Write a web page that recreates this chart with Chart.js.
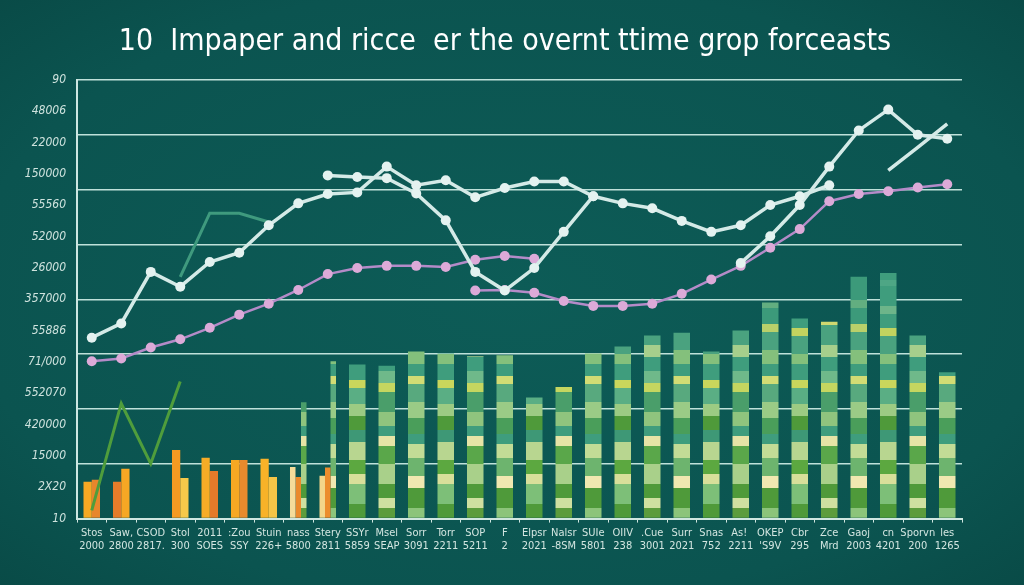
<!DOCTYPE html>
<html>
<head>
<meta charset="utf-8">
<script src="https://cdn.jsdelivr.net/npm/chart.js@4.4.1/dist/chart.umd.min.js"></script>
<style>
  html, body { margin: 0; padding: 0; }
  body { background: radial-gradient(ellipse at center, #0d5c57 0%, #0b5450 75%, #094b47 100%); }
  #wrap { width: 1024px; height: 585px; position: relative; }
  #title {
    position: absolute; top: 22px; left: -7px; width: 1024px; text-align: center;
    font-family: 'Liberation Sans Narrow', 'DejaVu Sans Condensed', sans-serif;
    font-size: 30px; line-height: 36px; color: #ffffff; white-space: pre;
  }
</style>
</head>
<body>
<div id="wrap">
  <canvas id="chart"></canvas>
  <div id="title">10  Impaper and ricce  er the overnt ttime grop forceasts</div>
</div>
<script>
// categories (two-line tick labels)
const xLabelTop = ['Stos', 'Saw,', 'CSOD', 'Stol', '2011', ':Zou', 'Stuin', 'nass', 'Stery', 'SSYr',
  'Msel', 'Sorr', 'Torr', 'SOP', 'F', 'Elpsr', 'Nalsr', 'SUIe', 'OIIV', '.Cue',
  'Surr', 'Snas', 'As! ', 'OKEP', 'Cbr', 'Zce', 'Gaoj', 'cn', 'Sporvn', 'les'];
const xLabelBottom = ['2000', '2800', '2817.', '300', 'SOES', 'SSY', '226+', '5800', '2811', '5859',
  'SEAP', '3091', '2211', '5211', '2', '2021', '-8SM', '5801', '238', '3001',
  '2021', '752', '2211', "'S9V", '295', 'Mrd', '2003', '4201', '200', '1265'];

// y tick labels, bottom to top
const yTickLabels = ['10', '2X20', '15000', '420000', '552070', '71/000', '55886', '357000',
  '26000', '52000', '55560', '150000', '22000', '48006', '90'];

// line series
const whiteA = [3.30, 3.56, 4.50, 4.23, 4.68, 4.85, 5.35, 5.75, 5.92, 5.95, 6.42, 6.08, 6.17, 5.86, 6.03,
  6.15, 6.15, 5.88, 5.75, 5.66, 5.43, 5.23, 5.35, 5.72, 5.88, 6.08, null, null, null, null];
const whiteB = [null, null, null, null, null, null, null, null, 6.26, 6.23, 6.21, 5.93, 5.44, 4.50, 4.16,
  4.57, 5.23, 5.88, null, null, null, null, null, null, null, null, null, null, null, null];
const whiteC = [null, null, null, null, null, null, null, null, null, null, null, null, null, null, null,
  null, null, null, null, null, null, null, 4.66, 5.15, 5.72, 6.42, 7.08, 7.46, 7.00, 6.93];
const whiteD = [null, null, null, null, null, null, null, null, null, null, null, null, null, null, null,
  null, null, null, null, null, null, null, null, null, null, null, null, 6.35, 6.77, 7.20];
const purpleA = [2.87, 2.92, 3.12, 3.27, 3.48, 3.72, 3.92, 4.17, 4.46, 4.57, 4.61, 4.61, 4.59, 4.72, 4.79,
  4.74, null, null, null, null, null, null, null, null, null, null, null, null, null, null];
const purpleB = [null, null, null, null, null, null, null, null, null, null, null, null, null, 4.16, 4.17,
  4.12, 3.97, 3.88, 3.88, 3.92, 4.10, 4.36, 4.61, 4.94, 5.28, 5.79, 5.92, 5.97, 6.04, 6.10];
const tealLine = [null, null, null, 4.41, 5.57, 5.57, 5.41, null, null, null, null, null, null, null, null,
  null, null, null, null, null, null, null, null, null, null, null, null, null, null, null];
const sproutLine = [0.15, 2.10, 1.00, 2.50, null, null, null, null, null, null, null, null, null, null, null,
  null, null, null, null, null, null, null, null, null, null, null, null, null, null, null];

// bar series
const orangeA = [0.67, 0.67, null, 1.25, 1.11, 1.07, 1.09, 0.94, 0.78, null, null, null, null, null, null,
  null, null, null, null, null, null, null, null, null, null, null, null, null, null, null];
const orangeB = [0.71, 0.91, null, 0.74, 0.87, 1.07, 0.76, 0.76, 0.93, null, null, null, null, null, null,
  null, null, null, null, null, null, null, null, null, null, null, null, null, null, null];
const greenBars = [null, null, null, null, null, null, null, 2.12, 2.87, 2.81, 2.79, 3.05, 3.01, 2.96, 2.98,
  2.21, 2.40, 3.01, 3.14, 3.34, 3.39, 3.05, 3.43, 3.94, 3.65, 3.59, 4.41, 4.48, 3.34, 2.67];

// colours
const orangeAColors = ['#f7a823', '#e67c2a', '#f7a823', '#f59a22', '#f6ac26', '#f7a823', '#f8b228', '#f4dc9a', '#f3d68a'];
const orangeBColors = ['#e8862c', '#f6a724', '#e8862c', '#f6c94a', '#e47a2a', '#e88a2d', '#f6c547', '#ea8a2c', '#ec8d2d'];
const FONT = "'Liberation Sans Narrow', 'DejaVu Sans Condensed', sans-serif";

// striped fill for the green bars, one page tall so the bands sit at fixed heights
function stripePattern(bands) {
  const c = document.createElement('canvas');
  const total = bands.reduce((s, b) => s + b[1], 0);
  c.width = 8; c.height = total;
  const g = c.getContext('2d');
  let y = 0;
  bands.forEach(([col, h]) => { g.fillStyle = col; g.fillRect(0, y, 8, h); y += h; });
  return g.createPattern(c, 'repeat');
}
const patterns = [
  stripePattern([['#3f9d7d', 280], ['#4ea685', 6], ['#3f9d7d', 20], ['#6db58a', 8], ['#3f9d7d', 14], ['#c2d35f', 8],
    ['#4aa27f', 18], ['#84c07c', 10], ['#3f9d7d', 16], ['#c9d65c', 8], ['#5aae84', 16], ['#9ccb83', 12], ['#4f9a3a', 14],
    ['#3e9876', 12], ['#b8d690', 18], ['#5ca840', 14], ['#d8df9a', 10], ['#7dbf78', 20], ['#4f9a3a', 16], ['#3f9d7d', 65]]),
  stripePattern([['#43a080', 290], ['#5cae88', 10], ['#3c9878', 18], ['#d0d870', 7], ['#4aa27f', 20], ['#a6cf8c', 12],
    ['#3f9d7d', 14], ['#6fb98a', 12], ['#c5d660', 9], ['#4a9e6a', 20], ['#8fc47e', 14], ['#3f9d7d', 10], ['#e6e4a6', 10],
    ['#5aa74a', 18], ['#a9d08a', 20], ['#4f9a3a', 14], ['#cfe0a0', 10], ['#5c9c3c', 12], ['#43a080', 65]]),
  stripePattern([['#3c9a7a', 300], ['#62ae80', 8], ['#3c9a7a', 16], ['#b9d06a', 8], ['#4aa27f', 18], ['#84c07c', 14],
    ['#3f9d7d', 12], ['#d2dc74', 8], ['#58a97e', 18], ['#9acb86', 16], ['#4a9e5a', 16], ['#3f9d7d', 10], ['#c2dc96', 14],
    ['#6db46e', 18], ['#f0e8b0', 12], ['#4f9a3a', 20], ['#8cc47a', 12], ['#3c9a7a', 65]])
];

const whiteLine = { type: 'line', borderColor: '#d4eae7', backgroundColor: '#e4f2f0', borderWidth: 3.5,
  pointRadius: 5, pointBorderWidth: 0, tension: 0, order: 0 };
const purpleLine = { type: 'line', borderColor: '#b48bc8', backgroundColor: '#dcaad8', borderWidth: 2.5,
  pointRadius: 5, pointBorderWidth: 0, tension: 0, order: 0 };

new Chart(document.getElementById('chart'), {
  type: 'bar',
  data: {
    labels: xLabelTop.map((t, i) => [t, xLabelBottom[i]]),
    datasets: [
      { ...whiteLine, label: 'Forecast A', data: whiteA },
      { ...whiteLine, label: 'Forecast B', data: whiteB },
      { ...whiteLine, label: 'Forecast C', data: whiteC },
      { ...whiteLine, label: 'Forecast D', data: whiteD, pointRadius: 0 },
      { ...purpleLine, label: 'Price A', data: purpleA },
      { ...purpleLine, label: 'Price B', data: purpleB },
      { type: 'line', label: 'Trend', data: tealLine, borderColor: '#3f9a7e', borderWidth: 3, pointRadius: 0, order: 0 },
      { type: 'line', label: 'Sprout', data: sproutLine, borderColor: '#4f9d3c', borderWidth: 3, pointRadius: 0, order: 1 },
      { label: 'Impact A', data: orangeA, backgroundColor: orangeAColors, order: 2 },
      { label: 'Impact B', data: orangeB, backgroundColor: orangeBColors, order: 2 },
      { label: 'Group yield', data: greenBars, backgroundColor: ctx => patterns[ctx.dataIndex % 3], order: 2 }
    ]
  },
  options: {
    responsive: true,
    maintainAspectRatio: false,
    animation: false,
    layout: { padding: { left: 3, right: 62, top: 80, bottom: 28 } },
    datasets: { bar: { skipNull: true, categoryPercentage: 0.56, barPercentage: 1 } },
    plugins: {
      legend: { display: false },
      tooltip: { enabled: false },
      title: { display: false }
    },
    scales: {
      x: {
        offset: true,
        grid: { display: true, drawOnChartArea: false, tickLength: 4, color: '#cfe6e0' },
        border: { color: '#cfe6e0', width: 2 },
        ticks: { color: '#d3e6e1', font: { family: FONT, size: 11 }, autoSkip: false, maxRotation: 0, padding: 4 }
      },
      y: {
        min: 0, max: 8, weight: 0,
        ticks: { stepSize: 1, display: false },
        grid: { color: '#bfe1da', lineWidth: 1.5, drawTicks: false },
        border: { color: '#cde7e2', width: 2 },
        afterFit: s => { s.width = 0; }
      },
      y2: {
        position: 'left', min: 0, max: 14, weight: 1,
        ticks: { stepSize: 1, padding: 3, color: '#cfe3de', font: { family: FONT, size: 12, style: 'italic' },
          callback: v => yTickLabels[v] },
        grid: { display: false },
        border: { display: false },
        afterFit: s => { s.width = 74; }
      }
    }
  }
});
</script>
</body>
</html>
